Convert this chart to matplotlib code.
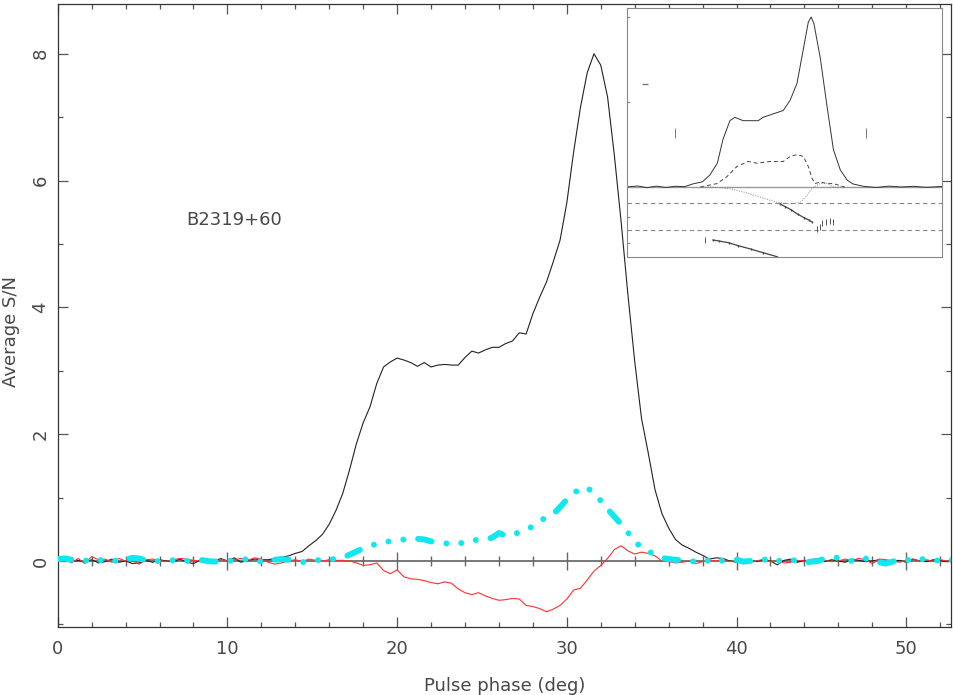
import numpy as np
import matplotlib
matplotlib.use("Agg")
from matplotlib import pyplot as plt

# ---- main profile, sampled every 0.4 deg ----
phase = np.arange(133) * 0.4

stokes_I = [
    0.02, 0.03, -0.01, 0.01, -0.02, 0.02, -0.03, -0.01, 0.03, -0.02,
    0.00, -0.04, -0.03, 0.01, -0.02, 0.02, 0.00, -0.01, 0.03, -0.02,
    -0.04, 0.01, 0.02, -0.01, 0.04, 0.00, 0.05, -0.02, 0.01, 0.03,
    0.02,
    0.02, 0.04, 0.06, 0.08, 0.12, 0.15, 0.24, 0.32, 0.42, 0.58,
    0.80, 1.07, 1.44, 1.85, 2.18, 2.43, 2.80, 3.06, 3.14, 3.20,
    3.17, 3.13, 3.07, 3.13, 3.06, 3.09, 3.10, 3.09, 3.09, 3.21,
    3.31, 3.28, 3.33, 3.37, 3.37, 3.43, 3.47, 3.60, 3.58, 3.90,
    4.16, 4.40, 4.72, 5.06, 5.65, 6.45, 7.15, 7.70, 8.00, 7.82,
    7.32, 6.40, 5.35, 4.20, 3.15, 2.25, 1.70, 1.12, 0.75, 0.52,
    0.34, 0.25, 0.20, 0.14, 0.09, 0.03,
    0.05, 0.04, 0.00, -0.02, 0.01, 0.00, -0.01, 0.02, 0.00, -0.06,
    0.01, 0.03, -0.02, 0.01, 0.00, 0.04, -0.01, 0.02, 0.00, -0.02,
    0.03, 0.01, -0.01, 0.00, 0.02, -0.03, 0.00, 0.01, -0.02, 0.03,
    0.00, -0.01, 0.02, 0.01, -0.01, 0.00,
]

linear_L = [
    0.03, 0.04, 0.02, 0.00, 0.01, -0.01, 0.02, 0.00, -0.02, 0.03,
    0.02, 0.05, 0.04, 0.01, -0.01, 0.00, 0.02, 0.01, -0.02, 0.00,
    0.01, 0.02, 0.00, -0.01, 0.00, 0.01, 0.00, 0.02, 0.03, 0.01,
    -0.01,
    0.01, 0.02, 0.03, 0.02, 0.01, -0.02, 0.00, 0.01, 0.02, 0.03,
    0.03, 0.05, 0.10, 0.15, 0.20, 0.24, 0.27, 0.30, 0.31, 0.32,
    0.34, 0.36, 0.35, 0.34, 0.31, 0.29, 0.28, 0.27, 0.27, 0.30,
    0.33, 0.33, 0.33, 0.37, 0.44, 0.40, 0.42, 0.45, 0.49, 0.55,
    0.63, 0.69, 0.74, 0.85, 0.97, 1.07, 1.14, 1.16, 1.06, 0.95,
    0.82, 0.70, 0.58, 0.45, 0.30, 0.22, 0.16, 0.09, 0.05, 0.03,
    0.02,
    0.01, 0.00, -0.01, 0.02, 0.00, -0.03, 0.01, 0.00, 0.02, -0.01,
    0.00, 0.01, 0.03, -0.02, 0.00, 0.01, 0.02, 0.00, -0.03, -0.01,
    0.00, 0.04, 0.06, 0.05, 0.03, 0.00, 0.02, 0.04, 0.00, -0.02,
    -0.04, -0.01, 0.03, 0.02, 0.00, 0.04, 0.01, 0.02, 0.00, 0.03,
    0.01,
]

circular_V = [
    0.00, 0.06, -0.03, 0.04, -0.04, 0.07, 0.02, 0.03, -0.02, 0.04,
    0.00, 0.01, -0.05, 0.02, 0.03, 0.01, -0.01, 0.02, 0.04, 0.03,
    0.01, 0.00, -0.02, -0.04, 0.03, 0.00, 0.02, 0.04, 0.01, 0.05,
    0.03, -0.02, -0.05, -0.03, 0.00, 0.02, -0.01, 0.03, 0.01, 0.00,
    0.02, 0.01,
    0.01, 0.00, -0.03, -0.07, -0.06, -0.03, -0.15, -0.20, -0.14, -0.25,
    -0.28, -0.29, -0.31, -0.34, -0.36, -0.33, -0.35, -0.44, -0.50, -0.53,
    -0.50, -0.55, -0.59, -0.62, -0.61, -0.59, -0.60, -0.70, -0.72, -0.75,
    -0.80, -0.76, -0.70, -0.60, -0.46, -0.43, -0.30, -0.16, -0.07, 0.04,
    0.18, 0.24, 0.16, 0.11, 0.14, 0.12, 0.08, 0.00, -0.01,
    -0.03, -0.02, 0.00, -0.04, -0.01, 0.01, 0.00, 0.02, -0.01, 0.00,
    0.02, -0.02, 0.00, 0.03, -0.01, 0.00, -0.03, -0.02, 0.01, 0.00,
    0.02, 0.04, 0.01, -0.01, 0.00, 0.03, 0.01, 0.04, 0.02, -0.04,
    0.03, 0.02, 0.00, -0.02, 0.01, 0.03, 0.00, 0.02, -0.01, 0.02,
    0.00, -0.02,
]

# ---- inset (normalised profile + PA) ----
inset_phase_I = [2.3, 4.0, 5.5, 7.0, 8.5, 10.0, 11.5, 12.8, 14.3, 15.5,
                 16.7, 17.6, 18.7, 19.5, 20.8, 21.9, 23.2, 24.0, 25.6, 27.2,
                 28.3, 29.4, 30.4, 31.2, 31.65, 32.1, 33.1, 34.2, 35.2, 36.3,
                 37.4, 38.3, 40.0, 42.0, 44.0, 46.0, 48.0, 50.0, 52.5]
inset_I = [0.00, 0.006, -0.004, 0.005, -0.003, 0.004, 0.002, 0.018, 0.03, 0.07,
           0.14, 0.28, 0.39, 0.41, 0.39, 0.39, 0.39, 0.41, 0.43, 0.45,
           0.51, 0.61, 0.81, 0.97, 1.00, 0.96, 0.76, 0.47, 0.22, 0.10,
           0.04, 0.018, 0.004, -0.003, 0.005, 0.0, 0.004, -0.002, 0.003]

inset_phase_L = [14.0, 16.65, 18.2, 19.8, 21.6, 23.0, 25.1, 27.2, 28.3, 29.4,
                 30.4, 31.2, 31.8, 32.3, 33.1, 34.2, 35.2, 37.0]
inset_L = [0.0, 0.02, 0.06, 0.12, 0.15, 0.14, 0.15, 0.15, 0.18, 0.19,
           0.18, 0.12, 0.05, 0.02, 0.03, 0.02, 0.02, 0.0]

inset_phase_V = [14.0, 16.0, 18.7, 21.4, 24.0, 26.2, 28.3, 29.9, 31.0, 31.8,
                 33.1, 34.2, 35.2, 37.0]
inset_V = [0.0, 0.0, -0.01, -0.035, -0.065, -0.09, -0.10, -0.09, -0.05, -0.006,
           0.02, 0.02, 0.0, 0.0]

pa_phase_a = [26.7, 27.5, 28.5, 29.5, 30.5, 31.3, 31.8]
pa_a = [-0.100, -0.115, -0.135, -0.160, -0.180, -0.195, -0.206]
pa_phase_b = [16.0, 17.0, 18.5, 20.0, 22.0, 24.0, 26.2]
pa_b = [-0.312, -0.318, -0.328, -0.345, -0.365, -0.387, -0.410]
pa_phase_pts = [14.7, 32.6, 33.4, 33.0, 34.0, 34.6, 35.2]
pa_pts = [-0.31, -0.25, -0.21, -0.235, -0.205, -0.20, -0.205]

txt = '#484848'
plt.rcParams['font.family'] = ['DejaVu Sans']

fig = plt.figure(figsize=(9.54, 6.95), dpi=100)
ax = fig.add_axes([0.0605, 0.0974, 0.9364, 0.8968])

# zero line with its own tick marks
ax.axhline(0, color='#777777', lw=1.4, zorder=1)
ax.vlines(np.arange(10, 51, 10), -0.14, 0.14, color='#666666', lw=1.0, zorder=1)
minor_x = [v for v in np.arange(2, 53, 2) if v % 10 != 0]
ax.vlines(minor_x, -0.08, 0.08, color='#666666', lw=1.0, zorder=1)

ax.plot(phase, stokes_I, color='#222222', lw=0.8, zorder=3)
ax.plot(phase, circular_V, color='#ff3030', lw=0.8, zorder=3)
ax.plot(phase, linear_L, color='#10e8f0', lw=4.3, zorder=4,
        dashes=(2.3, 2.5, 0.01, 2.5, 0.01, 2.5, 0.01, 2.5),
        dash_capstyle='round', solid_capstyle='round')

ax.text(7.6, 5.38, 'B2319+60', color=txt, fontsize=13, ha='left', va='center')

ax.set_xlim(0, 52.64)
ax.set_ylim(-1.046, 8.785)
ax.set_xticks(np.arange(0, 51, 10))
ax.set_xticks(np.arange(0, 53, 2), minor=True)
ax.set_yticks([0, 2, 4, 6, 8])
ax.set_yticks(np.arange(-1, 9, 1), minor=True)
ax.tick_params(which='both', direction='in', top=True, right=True,
               colors='#555555', labelcolor=txt, labelsize=13)
ax.tick_params(which='major', length=7.2, width=0.9)
ax.tick_params(which='minor', length=3.6, width=0.9)
ax.tick_params(axis='y', labelrotation=90, pad=6)
ax.tick_params(axis='x', pad=9)
for lab in ax.get_yticklabels():
    lab.set_va('center')
for s in ax.spines.values():
    s.set_color('#333333')
    s.set_linewidth(0.9)

ax.set_xlabel('Pulse phase (deg)', color=txt, fontsize=13)
ax.set_ylabel('Average S/N', color=txt, fontsize=13)
ax.xaxis.set_label_coords(0.5, -0.080)
ax.yaxis.set_label_coords(-0.042, 0.474)

# inset
ins = fig.add_axes([0.6572, 0.6302, 0.3302, 0.3583])
ins.set_xlim(2.3, 52.5)
ins.set_ylim(-0.412, 1.053)
ins.axhline(0, color='#999999', lw=1.0)
ins.axhline(-0.094, color='#888888', lw=0.8, dashes=(4, 3))
ins.axhline(-0.253, color='#888888', lw=0.8, dashes=(4, 3))
ins.plot(inset_phase_I, inset_I, color='#333333', lw=0.7)
ins.plot(inset_phase_L, inset_L, color='#444444', lw=0.7, dashes=(4, 3))
ins.plot(inset_phase_V, inset_V, color='#888888', lw=0.7, dashes=(1, 1.5))
ins.plot(pa_phase_a, pa_a, color='#444444', lw=0.9, marker='|', ms=2)
ins.plot(pa_phase_b, pa_b, color='#444444', lw=0.9, marker='|', ms=2)
ins.plot(pa_phase_pts, pa_pts, ls='none', color='#555555', marker='|', ms=4, mew=0.7)
ins.plot([5.2], [0.606], ls='none', color='#777777', marker='_', ms=4)
ins.vlines([9.95, 40.4], 0.288, 0.347, color='#777777', lw=0.7)
ins.set_xticks([])
ins.set_yticks([1.0, 0.5, -0.176, -0.33])
ins.tick_params(axis='y', direction='in', length=2.5, colors='#888888',
                labelleft=False)
for s in ins.spines.values():
    s.set_color('#888888')
    s.set_linewidth(0.8)

fig.savefig('out.png', dpi=100)
